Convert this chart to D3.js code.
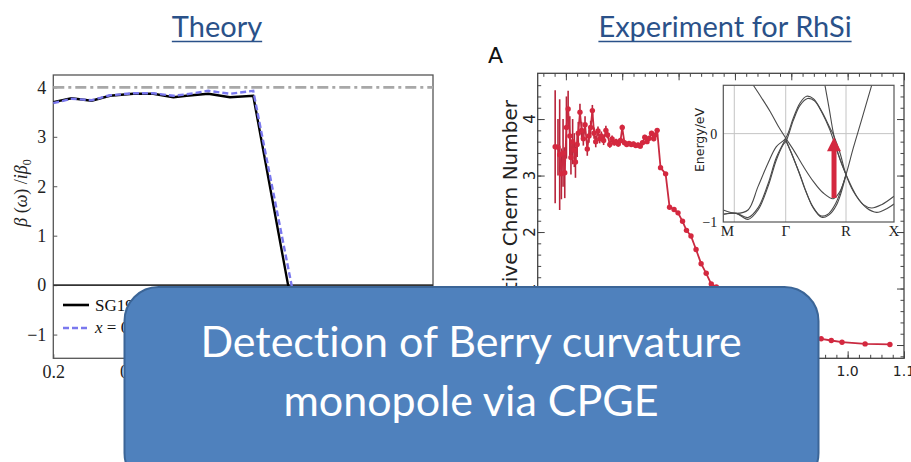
<!DOCTYPE html>
<html>
<head>
<meta charset="utf-8">
<script src="https://cdn.jsdelivr.net/npm/d3@7"></script>
<style>
  html, body { margin: 0; padding: 0; background: #fff; overflow: hidden; }
  text { font-variant-ligatures: none; }
</style>
</head>
<body>
<div id="slide"></div>
<script>
'use strict';

// ---- theory panel data ----
var theoryX = [0.2, 0.247, 0.299, 0.346, 0.406, 0.458, 0.510, 0.544, 0.600, 0.656, 0.716, 0.806, 0.84];
var theorySG = [3.70, 3.78, 3.73, 3.83, 3.87, 3.87, 3.80, 3.83, 3.87, 3.80, 3.83, 0.0, -1.4];
var theoryXDashX = [0.2, 0.247, 0.299, 0.346, 0.406, 0.458, 0.510, 0.544, 0.600, 0.656, 0.716, 0.815, 0.85];
var theoryDash = [3.68, 3.77, 3.74, 3.84, 3.88, 3.88, 3.83, 3.86, 3.93, 3.87, 3.93, 0.0, -1.4];
var theoryLimit = 4;
var theoryXTicks = [0.2, 0.4, 0.6, 0.8, 1.0];
var theoryXLabels = [0.2, 0.4];          // the rest sit under the callout
var theoryYTicks = [-1, 0, 1, 2, 3, 4];
var theoryLegend = ['SG198', 'x = 0.1'];

// ---- experiment panel data (RhSi) ----
var energy = [
  0.481, 0.486, 0.489, 0.492, 0.495, 0.498, 0.501, 0.504, 0.507, 0.509,
  0.512, 0.515, 0.517, 0.520, 0.522, 0.525, 0.528, 0.531, 0.534, 0.538,
  0.541, 0.544, 0.547, 0.550, 0.553, 0.557, 0.560, 0.563, 0.567, 0.571,
  0.574, 0.578, 0.582, 0.586, 0.589, 0.593, 0.597, 0.600, 0.604, 0.608,
  0.612, 0.616, 0.620, 0.624, 0.628, 0.632, 0.636, 0.640, 0.644, 0.648,
  0.652, 0.656, 0.659, 0.662,
  0.668, 0.677, 0.684, 0.692, 0.699, 0.707, 0.714, 0.722, 0.731, 0.740,
  0.749, 0.758, 0.767,
  0.953, 0.971, 0.990, 1.031, 1.075
];
var chern = [
  3.51, 3.50, 3.37, 3.03, 3.40, 3.05, 3.85, 4.18, 3.70, 3.32,
  3.60, 3.45, 3.24, 3.55, 3.75, 4.12, 3.80, 3.65, 3.90, 3.47,
  3.70, 3.85, 4.15, 3.75, 3.60, 3.79, 3.65, 3.70, 3.62, 3.80,
  3.72, 3.55, 3.65, 3.58, 3.60, 3.56, 3.62, 3.85, 3.58, 3.55,
  3.57, 3.55, 3.56, 3.53, 3.54, 3.52, 3.58, 3.68, 3.60, 3.66,
  3.75, 3.65, 3.72, 3.80,
  3.14, 3.03, 2.44, 2.40, 2.34, 2.19, 2.03, 1.93, 1.69, 1.44,
  1.27, 1.08, 1.03,
  0.11, 0.08, 0.05, 0.02, 0.01
];
var chernErr = [
  1.00, 0.50, 0.98, 0.45, 0.60, 0.45, 0.55, 0.32, 0.35, 0.30,
  0.40, 0.30, 0.28, 0.22, 0.20, 0.15, 0.15, 0.12, 0.15, 0.12,
  0.12, 0.12, 0.10, 0.10, 0.10, 0.08, 0.08, 0.08, 0.08, 0.08,
  0.06, 0.06, 0.06, 0.05, 0.05, 0.05, 0.05, 0.05, 0.04, 0.04,
  0.04, 0.04, 0.04, 0.04, 0.04, 0.04, 0.04, 0.04, 0.04, 0.04,
  0.04, 0.04, 0.04, 0.04,
  0.03, 0.03, 0.03, 0.03, 0.03, 0.03, 0.03, 0.03, 0.03, 0.03,
  0.03, 0.03, 0.03,
  0.02, 0.02, 0.02, 0.02, 0.02
];
var expXTicks = [0.5, 0.6, 0.7, 0.8, 0.9, 1.0, 1.1];
var expXLabels = [1.0, 1.1];              // the rest sit under the callout
var expYTicks = [0, 1, 2, 3, 4];
var expYLabels = [1, 2, 3, 4];

// ---- inset band structure (k along M-Γ-R-X, energy in eV) ----
var kTicks = [0, 1, 1.966, 2.735];
var kLabels = ['M', 'Γ', 'R', 'X'];
var kGrid = [0.176, 1, 1.966];
var bandTopLeft = [[0.481, 0.547], [0.614, 0.404], [0.748, 0.253], [0.881, 0.083], [0.999, -0.049],
  [1.122, -0.181], [1.282, -0.370], [1.442, -0.540], [1.603, -0.672], [1.763, -0.736],
  [1.870, -0.653], [1.966, -0.464], [2.083, -0.162], [2.217, 0.158], [2.377, 0.547]];
var bandHump = [[0, -0.864], [0.209, -0.902], [0.396, -0.864], [0.556, -0.600], [0.716, -0.336],
  [0.850, -0.147], [0.999, -0.052], [1.122, 0.177], [1.229, 0.347], [1.335, 0.423],
  [1.442, 0.396], [1.576, 0.253], [1.709, 0.064], [1.763, -0.011], [1.870, -0.219],
  [1.966, -0.464], [2.083, -0.653], [2.244, -0.804], [2.377, -0.842], [2.537, -0.804], [2.735, -0.709]];
var bandHump2 = [[0, -0.913], [0.209, -0.902], [0.396, -0.970], [0.556, -0.864], [0.716, -0.600],
  [0.850, -0.298], [0.957, -0.128], [1.01, -0.079], [1.122, 0.150], [1.229, 0.320], [1.350, 0.398],
  [1.460, 0.372], [1.590, 0.225], [1.709, 0.040], [1.800, -0.150], [1.966, -0.464]];
var bandDeep = [[1.01, -0.090], [1.122, -0.275], [1.229, -0.464], [1.335, -0.672], [1.442, -0.842],
  [1.576, -0.947], [1.683, -0.925], [1.816, -0.804], [1.966, -0.464]];
var bandDeep2 = [[0.999, -0.070], [1.110, -0.250], [1.215, -0.445], [1.320, -0.650], [1.430, -0.820],
  [1.560, -0.930], [1.670, -0.915], [1.800, -0.790], [1.966, -0.464]];
var bandMid = [[0, -0.913], [0.209, -0.902], [0.396, -0.950], [0.556, -0.840], [0.716, -0.570],
  [0.850, -0.270], [0.999, -0.060]];
var bandSteep = [[1.629, 0.547], [1.699, 0.272], [1.763, 0.008], [1.843, -0.238], [1.966, -0.464],
  [2.137, -0.709], [2.297, -0.842], [2.457, -0.891], [2.618, -0.849], [2.735, -0.796]];
var bands = [bandTopLeft, bandHump, bandHump2, bandDeep, bandDeep2, bandMid, bandSteep];
var arrowK = 1.774;
var arrowFrom = -0.728;
var arrowTo = -0.04;

// ---- layout ----
var WIDTH = 911,
    HEIGHT = 462;
var THEORY_FRAME = {left: 53.3, right: 433, top: 75, bottom: 358.3};
var EXP_FRAME = {left: 537.7, right: 904, top: 73.3, bottom: 358.3};
var INSET_FRAME = {left: 723.3, right: 894, top: 85.3, bottom: 222};
var SERIF = '"Liberation Serif", "DejaVu Serif", serif';
var SANS = '"DejaVu Sans", "Liberation Sans", sans-serif';
var SLIDE_FONT = 'Lato, "Open Sans", sans-serif';
var RED = '#d4283f';

var minusFormat = function (d) {
  return d < 0 ? '\u2212' + (-d) : String(d);
};

var svg = d3.select('#slide').append('svg')
    .attr('width', WIDTH)
    .attr('height', HEIGHT)
    .attr('viewBox', '0 0 ' + WIDTH + ' ' + HEIGHT);

// ---- slide titles ----
var titles = [
  {text: 'Theory', x: 217},
  {text: 'Experiment for RhSi', x: 725}
];
titles.forEach(function (t) {
  var node = svg.append('text')
      .attr('x', t.x)
      .attr('y', 37)
      .attr('text-anchor', 'middle')
      .style('font-family', SLIDE_FONT)
      .style('font-size', '29px')
      .attr('fill', '#2a5189')
      .text(t.text);
  var len = node.node().getComputedTextLength();
  svg.append('line')
      .attr('x1', t.x - len / 2)
      .attr('x2', t.x + len / 2)
      .attr('y1', 41.5)
      .attr('y2', 41.5)
      .attr('stroke', '#2a5189')
      .attr('stroke-width', 1.6);
});

// ================= theory panel =================
var xT = d3.scaleLinear().domain([0.2, 1.18]).range([THEORY_FRAME.left, THEORY_FRAME.right]);
var yT = d3.scaleLinear().domain([-1.48, 4.25]).range([THEORY_FRAME.bottom, THEORY_FRAME.top]);
var gT = svg.append('g').attr('class', 'theory');

gT.append('rect')
    .attr('x', THEORY_FRAME.left)
    .attr('y', THEORY_FRAME.top)
    .attr('width', THEORY_FRAME.right - THEORY_FRAME.left)
    .attr('height', THEORY_FRAME.bottom - THEORY_FRAME.top)
    .attr('fill', '#fff')
    .attr('stroke', '#555')
    .attr('stroke-width', 1.3);

var axisLeftT = gT.append('g')
    .attr('transform', 'translate(' + THEORY_FRAME.left + ',0)')
    .call(d3.axisLeft(yT).tickValues(theoryYTicks).tickFormat(minusFormat)
        .tickSizeInner(-4).tickSizeOuter(0).tickPadding(7));
var axisBottomT = gT.append('g')
    .attr('transform', 'translate(0,' + THEORY_FRAME.bottom + ')')
    .call(d3.axisBottom(xT).tickValues(theoryXTicks)
        .tickFormat(function (d) {
          return theoryXLabels.indexOf(d) >= 0 ? d3.format('.1f')(d) : '';
        })
        .tickSizeInner(-4).tickSizeOuter(0).tickPadding(7));
[axisLeftT, axisBottomT].forEach(function (a) {
  a.select('.domain').remove();
  a.attr('font-family', SERIF).attr('font-size', 18);
  a.selectAll('line').attr('stroke', '#555');
  a.selectAll('text').attr('fill', '#222');
});

// reference limit and zero line
gT.append('line')
    .attr('x1', xT.range()[0]).attr('x2', xT.range()[1])
    .attr('y1', yT(theoryLimit)).attr('y2', yT(theoryLimit))
    .attr('stroke', '#a8a8a8')
    .attr('stroke-width', 2.6)
    .attr('stroke-dasharray', '11,4,3,4');
gT.append('line')
    .attr('x1', xT.range()[0]).attr('x2', xT.range()[1])
    .attr('y1', yT(0)).attr('y2', yT(0))
    .attr('stroke', '#333')
    .attr('stroke-width', 1.8);

var lineSG = d3.line()
    .x(function (d, i) { return xT(theoryX[i]); })
    .y(function (d) { return yT(d); });
var lineDash = d3.line()
    .x(function (d, i) { return xT(theoryXDashX[i]); })
    .y(function (d) { return yT(d); });

gT.append('path')
    .attr('d', lineSG(theorySG))
    .attr('fill', 'none')
    .attr('stroke', '#000')
    .attr('stroke-width', 2.4);
gT.append('path')
    .attr('d', lineDash(theoryDash))
    .attr('fill', 'none')
    .attr('stroke', '#7a78ee')
    .attr('stroke-width', 2.4)
    .attr('stroke-dasharray', '6,3');

// legend
var legend = gT.append('g').attr('transform', 'translate(63,305)');
legend.append('line').attr('x1', 0).attr('x2', 26).attr('y1', 0).attr('y2', 0)
    .attr('stroke', '#000').attr('stroke-width', 2.6);
legend.append('text').attr('x', 32).attr('y', 6)
    .attr('font-family', SERIF).attr('font-size', 17).attr('fill', '#111')
    .text(theoryLegend[0]);
legend.append('line').attr('x1', 0).attr('x2', 26).attr('y1', 23).attr('y2', 23)
    .attr('stroke', '#7a78ee').attr('stroke-width', 2.6).attr('stroke-dasharray', '6,3');
var legend2 = legend.append('text').attr('x', 32).attr('y', 28)
    .attr('font-family', SERIF).attr('font-size', 17).attr('fill', '#111');
legend2.append('tspan').attr('font-style', 'italic').text('x');
legend2.append('tspan').text(theoryLegend[1].slice(1));

// y label
var yLabelT = gT.append('text')
    .attr('transform', 'translate(27,193) rotate(-90)')
    .attr('text-anchor', 'middle')
    .attr('font-family', SERIF)
    .attr('font-size', 18)
    .attr('fill', '#222');
yLabelT.append('tspan').attr('font-style', 'italic').text('β');
yLabelT.append('tspan').text(' (');
yLabelT.append('tspan').attr('font-style', 'italic').text('ω');
yLabelT.append('tspan').text(') /');
yLabelT.append('tspan').attr('font-style', 'italic').text('iβ');
yLabelT.append('tspan').attr('font-size', 12).attr('dy', 4).text('0');

// ================= experiment panel =================
var xE = d3.scaleLinear().domain([0.45, 1.1]).range([EXP_FRAME.left, EXP_FRAME.right]);
var yE = d3.scaleLinear().domain([-0.235, 4.81]).range([EXP_FRAME.bottom, EXP_FRAME.top]);
var gE = svg.append('g').attr('class', 'experiment');

gE.append('text')
    .attr('x', 488).attr('y', 63)
    .attr('font-family', SANS).attr('font-size', 22).attr('fill', '#111')
    .text('A');

gE.append('rect')
    .attr('x', EXP_FRAME.left)
    .attr('y', EXP_FRAME.top)
    .attr('width', EXP_FRAME.right - EXP_FRAME.left)
    .attr('height', EXP_FRAME.bottom - EXP_FRAME.top)
    .attr('fill', '#fff')
    .attr('stroke', '#444')
    .attr('stroke-width', 1.3);

// inward major and minor ticks on all four sides
var minorX = d3.range(0.46, 1.1, 0.02);
var minorY = d3.range(-0.2, 4.8, 0.2);
var tickAxes = [
  {axis: d3.axisBottom(xE), at: 'translate(0,' + EXP_FRAME.bottom + ')', minor: minorX, major: expXTicks},
  {axis: d3.axisTop(xE), at: 'translate(0,' + EXP_FRAME.top + ')', minor: minorX, major: expXTicks},
  {axis: d3.axisLeft(yE), at: 'translate(' + EXP_FRAME.left + ',0)', minor: minorY, major: expYTicks},
  {axis: d3.axisRight(yE), at: 'translate(' + EXP_FRAME.right + ',0)', minor: minorY, major: expYTicks}
];
tickAxes.forEach(function (t) {
  [{values: t.minor, size: -3.5}, {values: t.major, size: -7}].forEach(function (s) {
    var a = gE.append('g')
        .attr('transform', t.at)
        .call(t.axis.tickValues(s.values).tickSizeInner(s.size).tickSizeOuter(0).tickFormat(''));
    a.select('.domain').remove();
    a.selectAll('line').attr('stroke', '#444');
  });
});

// x tick labels
gE.append('g').selectAll('text')
    .data(expXLabels)
    .enter().append('text')
    .attr('x', function (d) { return xE(d); })
    .attr('y', EXP_FRAME.bottom + 18)
    .attr('text-anchor', 'middle')
    .attr('font-family', SANS)
    .attr('font-size', 14)
    .attr('fill', '#222')
    .text(d3.format('.1f'));

// y tick labels, rotated like the axis title
gE.append('g').selectAll('text')
    .data(expYLabels)
    .enter().append('text')
    .attr('transform', function (d) {
      return 'translate(530,' + yE(d) + ') rotate(-90)';
    })
    .attr('text-anchor', 'middle')
    .attr('dy', '0.35em')
    .attr('font-family', SANS)
    .attr('font-size', 15)
    .attr('fill', '#222')
    .text(function (d) { return d; });

gE.append('text')
    .attr('transform', 'translate(510,100) rotate(-90)')
    .attr('text-anchor', 'end')
    .attr('dy', '0.35em')
    .attr('font-family', SANS)
    .attr('font-size', 20)
    .attr('fill', '#222')
    .text('Effective Chern Number');

// error bars, line and markers
gE.append('g').selectAll('line')
    .data(chern)
    .enter().append('line')
    .attr('x1', function (d, i) { return xE(energy[i]); })
    .attr('x2', function (d, i) { return xE(energy[i]); })
    .attr('y1', function (d, i) { return yE(d - chernErr[i]); })
    .attr('y2', function (d, i) { return yE(d + chernErr[i]); })
    .attr('stroke', '#b8243a')
    .attr('stroke-width', 1.6);

var lineE = d3.line()
    .x(function (d, i) { return xE(energy[i]); })
    .y(function (d) { return yE(d); });
gE.append('path')
    .attr('d', lineE(chern))
    .attr('fill', 'none')
    .attr('stroke', '#c92a40')
    .attr('stroke-width', 1.8);
gE.append('g').selectAll('circle')
    .data(chern)
    .enter().append('circle')
    .attr('cx', function (d, i) { return xE(energy[i]); })
    .attr('cy', function (d) { return yE(d); })
    .attr('r', 2.7)
    .attr('fill', RED);

// ---- inset: band structure ----
var xK = d3.scaleLinear().domain([0, 2.735]).range([INSET_FRAME.left, INSET_FRAME.right]);
var yB = d3.scaleLinear().domain([-1, 0.547]).range([INSET_FRAME.bottom, INSET_FRAME.top]);
var gI = gE.append('g').attr('class', 'inset');

svg.append('defs').append('clipPath')
    .attr('id', 'clipInset')
    .append('rect')
    .attr('x', INSET_FRAME.left)
    .attr('y', INSET_FRAME.top)
    .attr('width', INSET_FRAME.right - INSET_FRAME.left)
    .attr('height', INSET_FRAME.bottom - INSET_FRAME.top);

gI.append('rect')
    .attr('x', INSET_FRAME.left)
    .attr('y', INSET_FRAME.top)
    .attr('width', INSET_FRAME.right - INSET_FRAME.left)
    .attr('height', INSET_FRAME.bottom - INSET_FRAME.top)
    .attr('fill', '#fff');

gI.selectAll('line.kgrid')
    .data(kGrid)
    .enter().append('line')
    .attr('class', 'kgrid')
    .attr('x1', function (d) { return xK(d); })
    .attr('x2', function (d) { return xK(d); })
    .attr('y1', INSET_FRAME.top)
    .attr('y2', INSET_FRAME.bottom)
    .attr('stroke', '#c4c4c4')
    .attr('stroke-width', 1);
gI.append('line')
    .attr('x1', INSET_FRAME.left).attr('x2', INSET_FRAME.right)
    .attr('y1', yB(0)).attr('y2', yB(0))
    .attr('stroke', '#c4c4c4')
    .attr('stroke-width', 1);

var bandLine = d3.line()
    .x(function (d) { return xK(d[0]); })
    .y(function (d) { return yB(d[1]); })
    .curve(d3.curveCatmullRom.alpha(0.5));
gI.append('g')
    .attr('clip-path', 'url(#clipInset)')
    .selectAll('path')
    .data(bands)
    .enter().append('path')
    .attr('d', bandLine)
    .attr('fill', 'none')
    .attr('stroke', '#4a4a4a')
    .attr('stroke-width', 1.1);

// optical transition arrow
var arrowX = xK(arrowK);
gI.append('line')
    .attr('x1', arrowX).attr('x2', arrowX)
    .attr('y1', yB(arrowFrom)).attr('y2', yB(arrowTo) + 12)
    .attr('stroke', RED)
    .attr('stroke-width', 5);
gI.append('path')
    .attr('d', 'M' + arrowX + ',' + yB(arrowTo) +
        'L' + (arrowX + 7) + ',' + (yB(arrowTo) + 14) +
        'L' + (arrowX - 7) + ',' + (yB(arrowTo) + 14) + 'Z')
    .attr('fill', RED);

gI.append('rect')
    .attr('x', INSET_FRAME.left)
    .attr('y', INSET_FRAME.top)
    .attr('width', INSET_FRAME.right - INSET_FRAME.left)
    .attr('height', INSET_FRAME.bottom - INSET_FRAME.top)
    .attr('fill', 'none')
    .attr('stroke', '#555')
    .attr('stroke-width', 1.2);

gI.selectAll('text.k')
    .data(kTicks)
    .enter().append('text')
    .attr('class', 'k')
    .attr('x', function (d, i) { return xK(d) + (i === 0 ? 4 : 0); })
    .attr('y', INSET_FRAME.bottom + 14)
    .attr('text-anchor', 'middle')
    .attr('font-family', SERIF)
    .attr('font-size', 15)
    .attr('fill', '#222')
    .text(function (d, i) { return kLabels[i]; });
gI.selectAll('text.e')
    .data([0, -1])
    .enter().append('text')
    .attr('class', 'e')
    .attr('x', INSET_FRAME.left - 6)
    .attr('y', function (d) { return yB(d); })
    .attr('dy', '0.35em')
    .attr('text-anchor', 'end')
    .attr('font-family', SERIF)
    .attr('font-size', 14)
    .attr('fill', '#222')
    .text(minusFormat);
gI.append('text')
    .attr('transform', 'translate(700,140) rotate(-90)')
    .attr('text-anchor', 'middle')
    .attr('dy', '0.35em')
    .attr('font-family', SANS)
    .attr('font-size', 12.5)
    .attr('fill', '#222')
    .text('Energy/eV');

// ================= callout box =================
var callout = svg.append('g').attr('class', 'callout');
callout.append('rect')
    .attr('x', 124.5)
    .attr('y', 287)
    .attr('width', 694)
    .attr('height', 200)
    .attr('rx', 34)
    .attr('fill', '#4f81bd')
    .attr('stroke', '#3b6597')
    .attr('stroke-width', 2);
callout.selectAll('text')
    .data(['Detection of Berry curvature', 'monopole via CPGE'])
    .enter().append('text')
    .attr('x', 471)
    .attr('y', function (d, i) { return 357 + i * 59; })
    .attr('text-anchor', 'middle')
    .attr('font-family', SLIDE_FONT)
    .attr('font-size', 43)
    .attr('fill', '#fff')
    .text(function (d) { return d; });
</script>
</body>
</html>
